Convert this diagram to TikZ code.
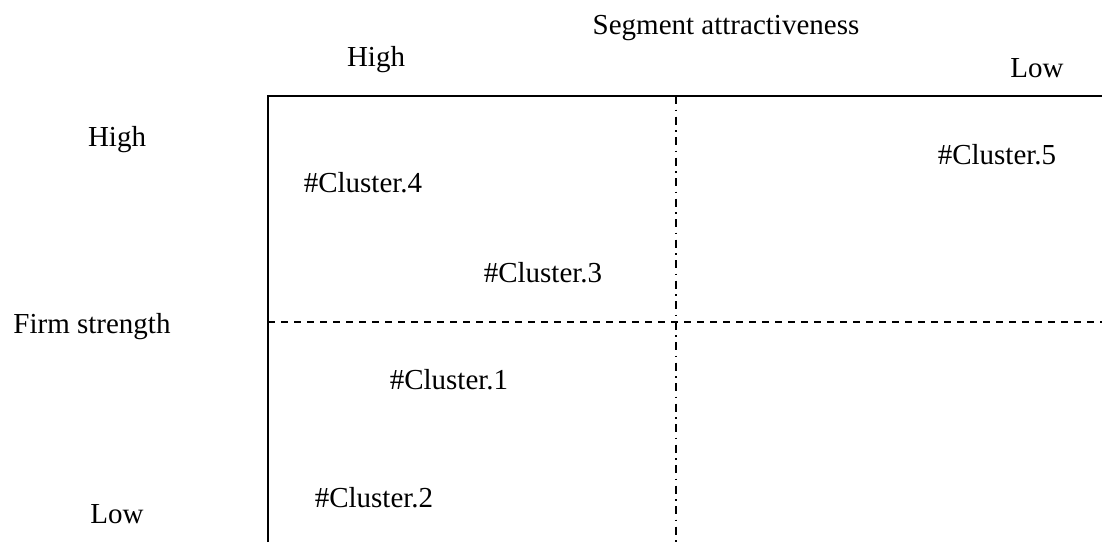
\documentclass[tikz,border=0pt]{standalone}
\usepackage{fontspec}
\setmainfont{Liberation Serif}
\usetikzlibrary{positioning,calc}

\begin{document}
\begin{tikzpicture}[x=1pt,y=1pt]
                        \tikzstyle{every node}=[inner sep=0,font=\fontsize{29}{34}\selectfont]
                        \tikzstyle{note}=[draw=none,anchor=base]
                        \tikzstyle{frame}=[line width=1.7]
                        \tikzstyle{hsplit}=[line width=1.4,dash pattern=on 7 off 6]
                        \tikzstyle{vsplit}=[line width=1.4,dash pattern=on 8 off 5.5 on 1.5 off 5.5]
                        \useasboundingbox (0,0) rectangle (1102,-542);
                        {
                            % corners of the grid
                            \coordinate (tl) at (268,-96);
                            \coordinate (tr) at (1102,-96);
                            \coordinate (bl) at (268,-542);
                            \coordinate (tm) at (676,-96);
                            \coordinate (bm) at (676,-542);
                            \coordinate (ml) at (268,-322);
                            \coordinate (mr) at (1102,-322);

                            \draw[frame] (bl) -- (tl) -- (tr);
                            \draw[vsplit] (tm) -- (bm);
                            \draw[hsplit] (ml) -- (mr);

                            % axis texts
                            \node[note] (xtitle) at (726,-34) {Segment attractiveness};
                            \node[note] (xhigh) at (376,-66) {High};
                            \node[note] (xlow) at (1037,-77) {Low};
                            \node[note] (yhigh) at (117,-146) {High};
                            \node[note] (ytitle) at (92,-333) {Firm strength};
                            \node[note] (ylow) at (117,-523) {Low};

                            % clusters
                            \node[note] (c4) at (363,-192) {\#Cluster.4};
                            \node[note] (c3) at (543,-282) {\#Cluster.3};
                            \node[note] (c5) at (997,-164) {\#Cluster.5};
                            \node[note] (c1) at (449,-389) {\#Cluster.1};
                            \node[note] (c2) at (374,-507) {\#Cluster.2};
                        }
\end{tikzpicture}
\end{document}
